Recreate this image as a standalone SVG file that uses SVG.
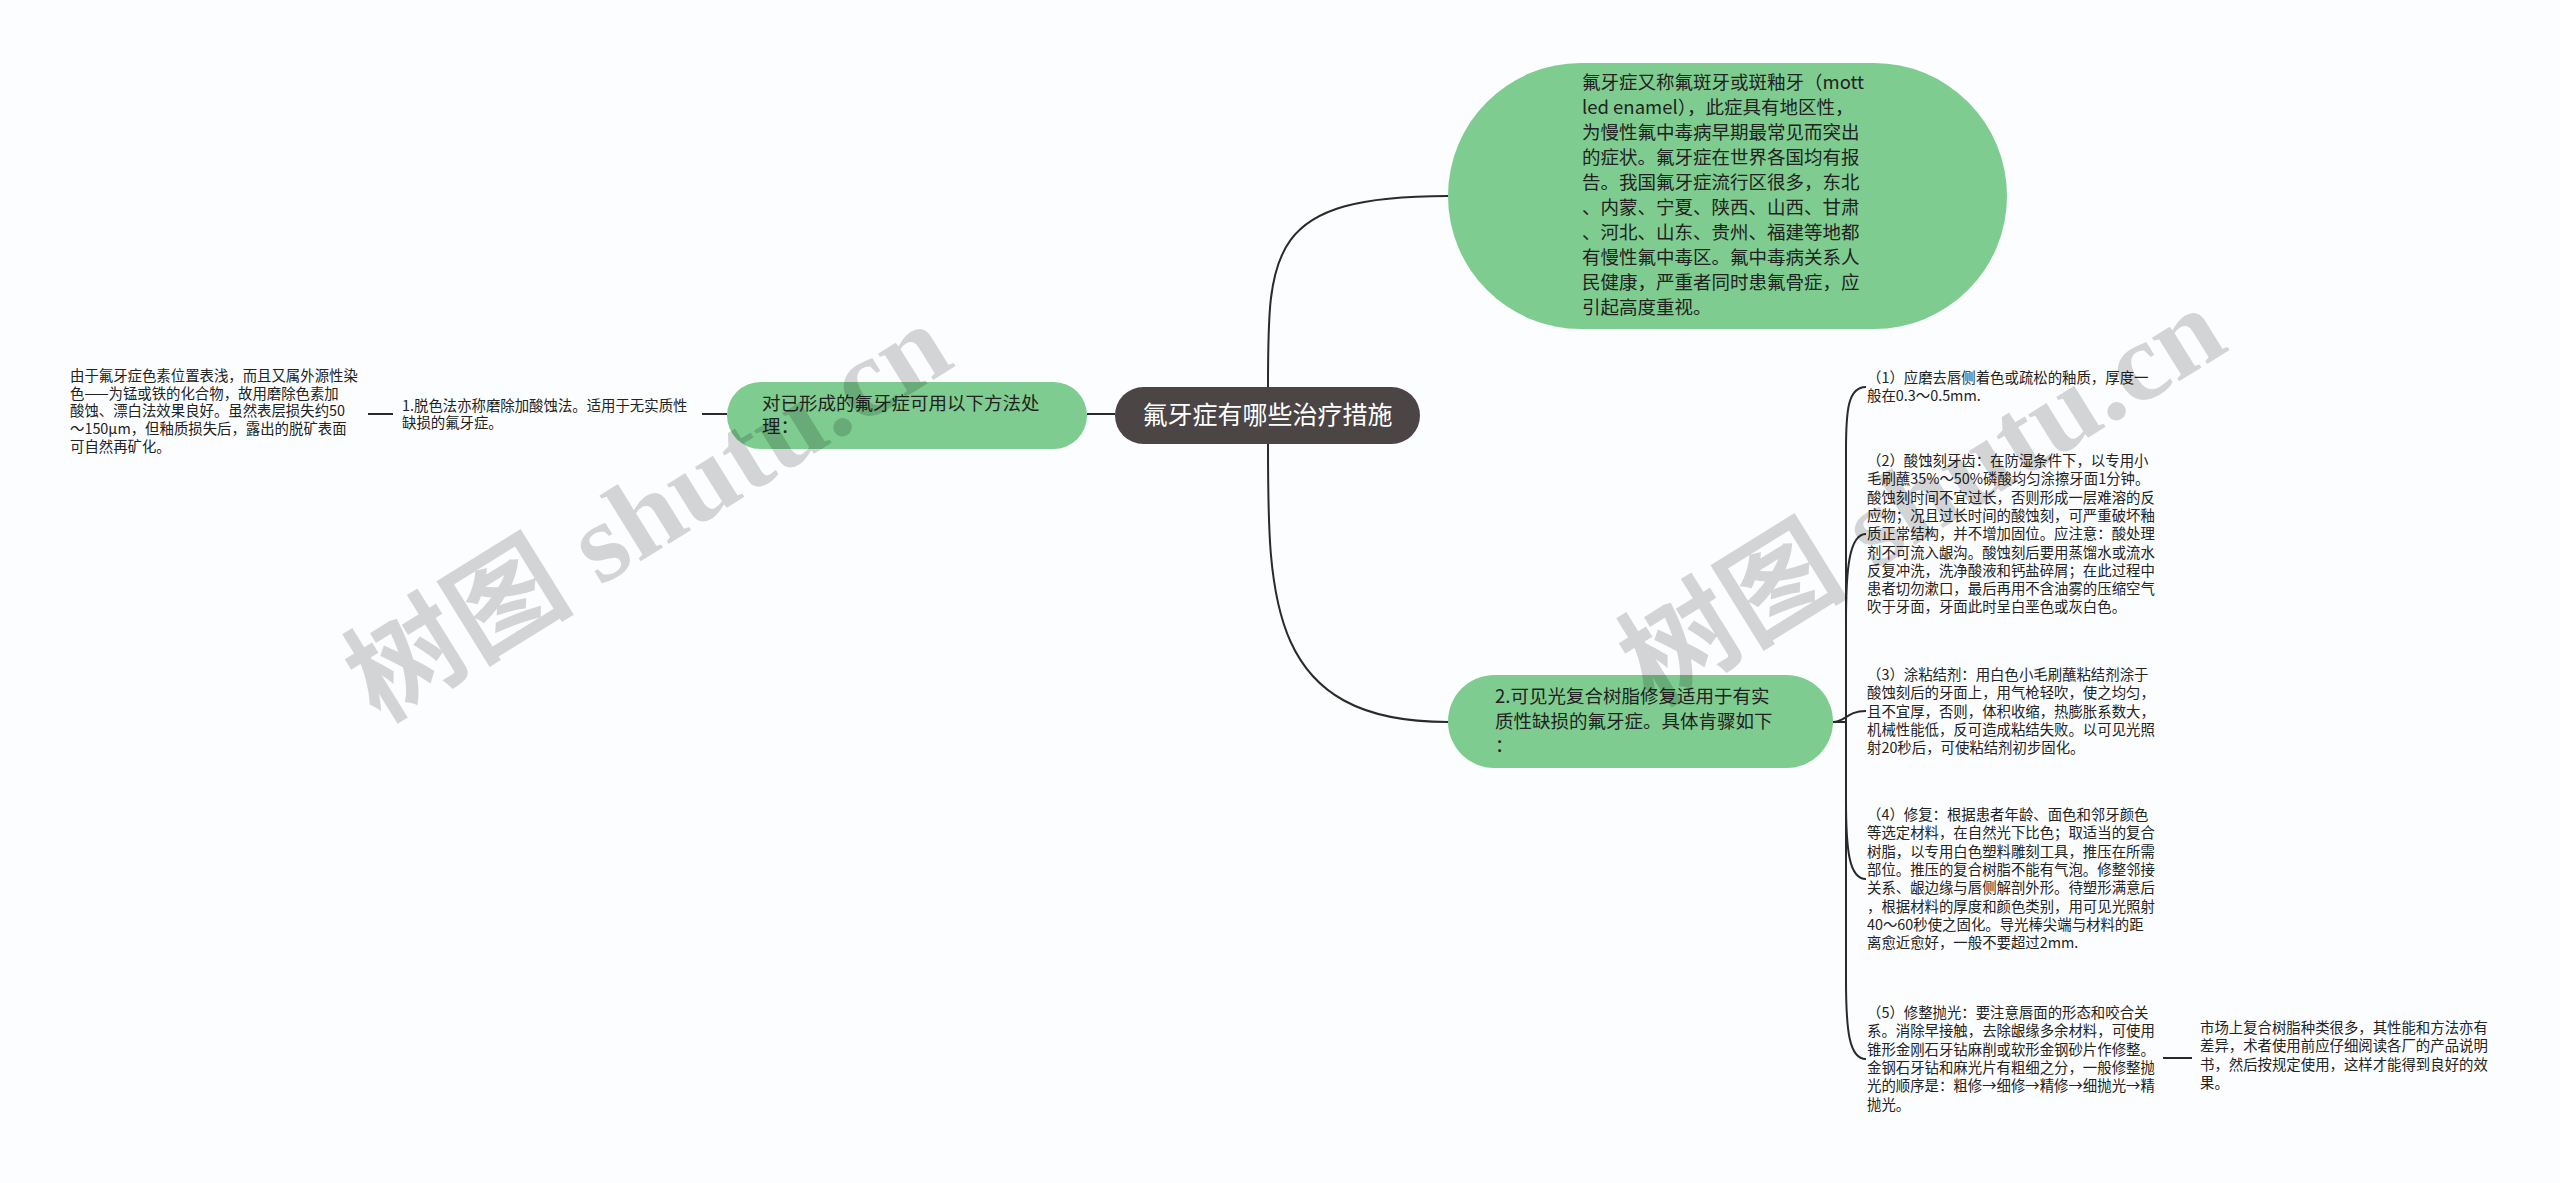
<svg xmlns="http://www.w3.org/2000/svg" width="2560" height="1183" viewBox="0 0 2560 1183">
<style>
.cn{font-family:"Noto Sans CJK SC","Noto Sans",sans-serif;fill:#222}
.sm{font-size:14.4px}
.md{font-size:18.5px}
.green{fill:#7ecc8f}
.wire{fill:none;stroke:#2a2a2a;stroke-width:2}
.wm{font-family:"Liberation Serif","Noto Sans CJK SC",serif;font-size:112px;font-weight:bold;fill:#000;fill-opacity:0.16}
</style>
<rect width="2560" height="1183" fill="#fcfdff"/>
<g id="connectors">
<path class="wire" d="M1268,387 C1268,250 1268,196 1448,196"/>
<path class="wire" d="M1268,444 C1268,600 1268,722 1448,722"/>
<path class="wire" d="M1115,414 H1087"/>
<path class="wire" d="M727,414 H702"/>
<path class="wire" d="M393,414 H368"/>
<path class="wire" d="M1833,722 H1846 V450 C1846,410 1848,387 1866,387"/>
<path class="wire" d="M1846,722 V620 C1846,570 1849,534 1866,534"/>
<path class="wire" d="M1833,722 C1846,722 1846,711 1866,711"/>
<path class="wire" d="M1846,722 V800 C1846,850 1849,879 1866,879"/>
<path class="wire" d="M1846,722 V980 C1846,1030 1849,1059 1866,1059"/>
<path class="wire" d="M2163,1058 H2192"/>
</g>
<g id="root">
<rect x="1115" y="387" width="305" height="57" rx="28.5" fill="#4b4545"/>
<text x="1267.5" y="424" text-anchor="middle" font-family="Noto Sans CJK SC,sans-serif" font-size="25px" fill="#fff">氟牙症有哪些治疗措施</text>
</g>
<g id="node-intro">
<rect class="green" x="1448" y="63" width="559" height="266" rx="133"/>
<text class="cn md"><tspan x="1582" y="89">氟牙症又称氟斑牙或斑釉牙（mott</tspan><tspan x="1582" dy="25">led enamel），此症具有地区性，</tspan><tspan x="1582" dy="25">为慢性氟中毒病早期最常见而突出</tspan><tspan x="1582" dy="25">的症状。氟牙症在世界各国均有报</tspan><tspan x="1582" dy="25">告。我国氟牙症流行区很多，东北</tspan><tspan x="1582" dy="25">、内蒙、宁夏、陕西、山西、甘肃</tspan><tspan x="1582" dy="25">、河北、山东、贵州、福建等地都</tspan><tspan x="1582" dy="25">有慢性氟中毒区。氟中毒病关系人</tspan><tspan x="1582" dy="25">民健康，严重者同时患氟骨症，应</tspan><tspan x="1582" dy="25">引起高度重视。</tspan></text>
</g>
<g id="node-left">
<rect class="green" x="727" y="382" width="360" height="67" rx="33.5"/>
<text class="cn md"><tspan x="762" y="410">对已形成的氟牙症可用以下方法处</tspan><tspan x="762" dy="23">理：</tspan></text>
</g>
<g id="node-method1">
<text class="cn sm"><tspan x="402" y="411">1.脱色法亦称磨除加酸蚀法。适用于无实质性</tspan><tspan x="402" dy="17">缺损的氟牙症。</tspan></text>
</g>
<g id="node-method1-detail">
<text class="cn sm"><tspan x="70" y="381">由于氟牙症色素位置表浅，而且又属外源性染</tspan><tspan x="70" dy="17.7">色——为锰或铁的化合物，故用磨除色素加</tspan><tspan x="70" dy="17.7">酸蚀、漂白法效果良好。虽然表层损失约50</tspan><tspan x="70" dy="17.7">～150μm，但釉质损失后，露出的脱矿表面</tspan><tspan x="70" dy="17.7">可自然再矿化。</tspan></text>
</g>
<g id="node-method2">
<rect class="green" x="1448" y="675" width="385" height="93" rx="46.5"/>
<text class="cn md"><tspan x="1495" y="703">2.可见光复合树脂修复适用于有实</tspan><tspan x="1495" dy="24.5">质性缺损的氟牙症。具体肯骤如下</tspan><tspan x="1495" dy="24.5">：</tspan></text>
</g>
<g id="step1">
<text class="cn sm"><tspan x="1867" y="383">（1）应磨去唇侧着色或疏松的釉质，厚度一</tspan><tspan x="1867" dy="18.3">般在0.3～0.5mm.</tspan></text>
</g>
<g id="step2">
<text class="cn sm"><tspan x="1867" y="466">（2）酸蚀刻牙齿：在防湿条件下，以专用小</tspan><tspan x="1867" dy="18.3">毛刷蘸35%～50%磷酸均匀涂擦牙面1分钟。</tspan><tspan x="1867" dy="18.3">酸蚀刻时间不宜过长，否则形成一层难溶的反</tspan><tspan x="1867" dy="18.3">应物；况且过长时间的酸蚀刻，可严重破坏釉</tspan><tspan x="1867" dy="18.3">质正常结构，并不增加固位。应注意：酸处理</tspan><tspan x="1867" dy="18.3">剂不可流入龈沟。酸蚀刻后要用蒸馏水或流水</tspan><tspan x="1867" dy="18.3">反复冲洗，洗净酸液和钙盐碎屑；在此过程中</tspan><tspan x="1867" dy="18.3">患者切勿漱口，最后再用不含油雾的压缩空气</tspan><tspan x="1867" dy="18.3">吹于牙面，牙面此时呈白垩色或灰白色。</tspan></text>
</g>
<g id="step3">
<text class="cn sm"><tspan x="1867" y="680">（3）涂粘结剂：用白色小毛刷蘸粘结剂涂于</tspan><tspan x="1867" dy="18.3">酸蚀刻后的牙面上，用气枪轻吹，使之均匀，</tspan><tspan x="1867" dy="18.3">且不宜厚，否则，体积收缩，热膨胀系数大，</tspan><tspan x="1867" dy="18.3">机械性能低，反可造成粘结失败。以可见光照</tspan><tspan x="1867" dy="18.3">射20秒后，可使粘结剂初步固化。</tspan></text>
</g>
<g id="step4">
<text class="cn sm"><tspan x="1867" y="820">（4）修复：根据患者年龄、面色和邻牙颜色</tspan><tspan x="1867" dy="18.3">等选定材料，在自然光下比色；取适当的复合</tspan><tspan x="1867" dy="18.3">树脂，以专用白色塑料雕刻工具，推压在所需</tspan><tspan x="1867" dy="18.3">部位。推压的复合树脂不能有气泡。修整邻接</tspan><tspan x="1867" dy="18.3">关系、龈边缘与唇侧解剖外形。待塑形满意后</tspan><tspan x="1867" dy="18.3">，根据材料的厚度和颜色类别，用可见光照射</tspan><tspan x="1867" dy="18.3">40～60秒使之固化。导光棒尖端与材料的距</tspan><tspan x="1867" dy="18.3">离愈近愈好，一般不要超过2mm.</tspan></text>
</g>
<g id="step5">
<text class="cn sm"><tspan x="1867" y="1018">（5）修整抛光：要注意唇面的形态和咬合关</tspan><tspan x="1867" dy="18.3">系。消除早接触，去除龈缘多余材料，可使用</tspan><tspan x="1867" dy="18.3">锥形金刚石牙钻麻削或软形金钢砂片作修整。</tspan><tspan x="1867" dy="18.3">金钢石牙钻和麻光片有粗细之分，一般修整抛</tspan><tspan x="1867" dy="18.3">光的顺序是：粗修→细修→精修→细抛光→精</tspan><tspan x="1867" dy="18.3">抛光。</tspan></text>
</g>
<g id="step5-note">
<text class="cn sm"><tspan x="2200" y="1033">市场上复合树脂种类很多，其性能和方法亦有</tspan><tspan x="2200" dy="18.3">差异，术者使用前应仔细阅读各厂的产品说明</tspan><tspan x="2200" dy="18.3">书，然后按规定使用，这样才能得到良好的效</tspan><tspan x="2200" dy="18.3">果。</tspan></text>
</g>
<g id="watermarks">
<text class="wm" x="648" y="512" text-anchor="middle" dominant-baseline="central" transform="rotate(-31.8 648 512)" textLength="680" lengthAdjust="spacingAndGlyphs">树图 shutu.cn</text>
<text class="wm" x="1922" y="496" text-anchor="middle" dominant-baseline="central" transform="rotate(-31.8 1922 496)" textLength="680" lengthAdjust="spacingAndGlyphs">树图 shutu.cn</text>
</g>
</svg>
